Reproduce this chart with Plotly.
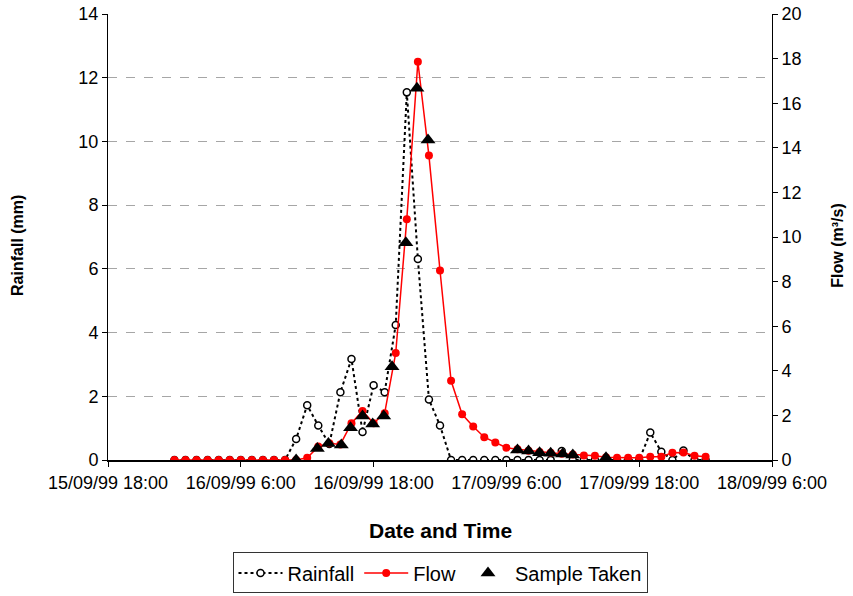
import pandas as pd
import plotly.graph_objects as go

# Hourly readings from 16/09/99 00:00 to 18/09/99 00:00
times = pd.date_range("1999-09-16 00:00", periods=49, freq="h")

rainfall_mm = [0, 0, 0, 0, 0, 0, 0, 0, 0, 0, 0,
               0.66, 1.72, 1.08, 0.5, 2.13, 3.17, 0.88, 2.35, 2.13, 4.24,
               11.54, 6.31, 1.9, 1.08,
               0, 0, 0, 0, 0, 0, 0, 0, 0, 0,
               0.28, 0, 0, 0, 0, 0, 0, 0,
               0.86, 0.26, 0, 0.3, 0, 0]

flow_m3s = [0, 0, 0, 0, 0, 0, 0, 0, 0, 0, 0,
            0.0, 0.1, 0.6, 0.75, 0.7, 1.65, 2.2, 1.65, 2.1, 4.8,
            10.8, 17.86, 13.65, 8.5,
            3.55, 2.05, 1.5, 1.02, 0.78, 0.55, 0.48, 0.42, 0.36, 0.32,
            0.28, 0.25, 0.2, 0.19, 0.12, 0.1, 0.1, 0.1,
            0.15, 0.15, 0.33, 0.34, 0.19, 0.15]

sample_times = ["1999-09-16 11:00", "1999-09-16 12:55", "1999-09-16 13:55",
                "1999-09-16 15:05", "1999-09-16 15:55", "1999-09-16 17:00",
                "1999-09-16 17:55", "1999-09-16 18:55", "1999-09-16 19:40",
                "1999-09-16 20:55", "1999-09-16 21:55", "1999-09-16 22:55",
                "1999-09-17 07:00", "1999-09-17 08:00", "1999-09-17 09:00",
                "1999-09-17 10:00", "1999-09-17 11:05", "1999-09-17 12:00",
                "1999-09-17 15:00"]
sample_flow = [0.0, 0.52, 0.74, 0.67, 1.45, 1.97, 1.61, 1.97, 4.18,
               9.74, 16.67, 14.35, 0.45, 0.4, 0.33, 0.3, 0.27, 0.22, 0.1]

x_tickvals = ["1999-09-15 18:00", "1999-09-16 06:00", "1999-09-16 18:00",
              "1999-09-17 06:00", "1999-09-17 18:00", "1999-09-18 06:00"]
x_ticktext = ["15/09/99 18:00", "16/09/99 6:00", "16/09/99 18:00",
              "17/09/99 6:00", "17/09/99 18:00", "18/09/99 6:00"]

FONT = "Arial, Liberation Sans, sans-serif"

fig = go.Figure()
fig.add_trace(go.Scatter(
    x=times, y=rainfall_mm, name="Rainfall", mode="lines+markers",
    line=dict(color="black", width=2, dash="dot"),
    marker=dict(symbol="circle", size=7, color="white",
                line=dict(color="black", width=1.5)),
    yaxis="y"))
fig.add_trace(go.Scatter(
    x=times, y=flow_m3s, name="Flow", mode="lines+markers",
    line=dict(color="#ff0000", width=1.5),
    marker=dict(symbol="circle", size=8, color="#ff0000"),
    yaxis="y2"))
fig.add_trace(go.Scatter(
    x=sample_times, y=sample_flow, name="Sample Taken", mode="markers",
    marker=dict(symbol="triangle-up", size=13, color="black"),
    yaxis="y2"))

fig.update_layout(
    width=853, height=596,
    margin=dict(l=108, r=81, t=14, b=136),
    paper_bgcolor="white", plot_bgcolor="white",
    font=dict(family=FONT, size=18, color="black"),
    showlegend=True,
    legend=dict(orientation="h", x=0.5, xanchor="center",
                yref="container", y=0.073, yanchor="top",
                bordercolor="#333333", borderwidth=1, font=dict(size=20),
                itemwidth=44, tracegroupgap=0, bgcolor="white"),
    xaxis=dict(range=["1999-09-15 18:00", "1999-09-18 06:00"],
               tickvals=x_tickvals, ticktext=x_ticktext,
               showgrid=False, zeroline=False, automargin=False,
               showline=True, linecolor="black", linewidth=2,
               ticks="outside", ticklen=5, tickcolor="black",
               tickfont=dict(size=18)),
    yaxis=dict(range=[0, 14], dtick=2, showgrid=True, gridcolor="#a6a6a6",
               griddash="dash", gridwidth=1, zeroline=False, automargin=False,
               showline=True, linecolor="black", linewidth=1,
               ticks="outside", ticklen=5, tickcolor="black",
               tickfont=dict(size=18)),
    yaxis2=dict(range=[0, 20], dtick=2, overlaying="y", side="right",
                showgrid=False, zeroline=False, automargin=False,
                showline=True, linecolor="black", linewidth=1,
                ticks="outside", ticklen=5, tickcolor="black",
                tickfont=dict(size=18)),
    annotations=[
        dict(text="<b>Date and Time</b>", xref="paper", yref="paper",
             x=0.5, y=-0.157, xanchor="center", yanchor="middle",
             showarrow=False, font=dict(size=21)),
        dict(text="<b>Rainfall (mm)</b>", xref="paper", yref="paper",
             x=-0.1355, y=0.48, xanchor="center", yanchor="middle",
             textangle=-90, showarrow=False, font=dict(size=16)),
        dict(text="<b>Flow (m³/s)</b>", xref="paper", yref="paper",
             x=1.099, y=0.48, xanchor="center", yanchor="middle",
             textangle=-90, showarrow=False, font=dict(size=16)),
    ],
)

fig.write_html("out.html")
